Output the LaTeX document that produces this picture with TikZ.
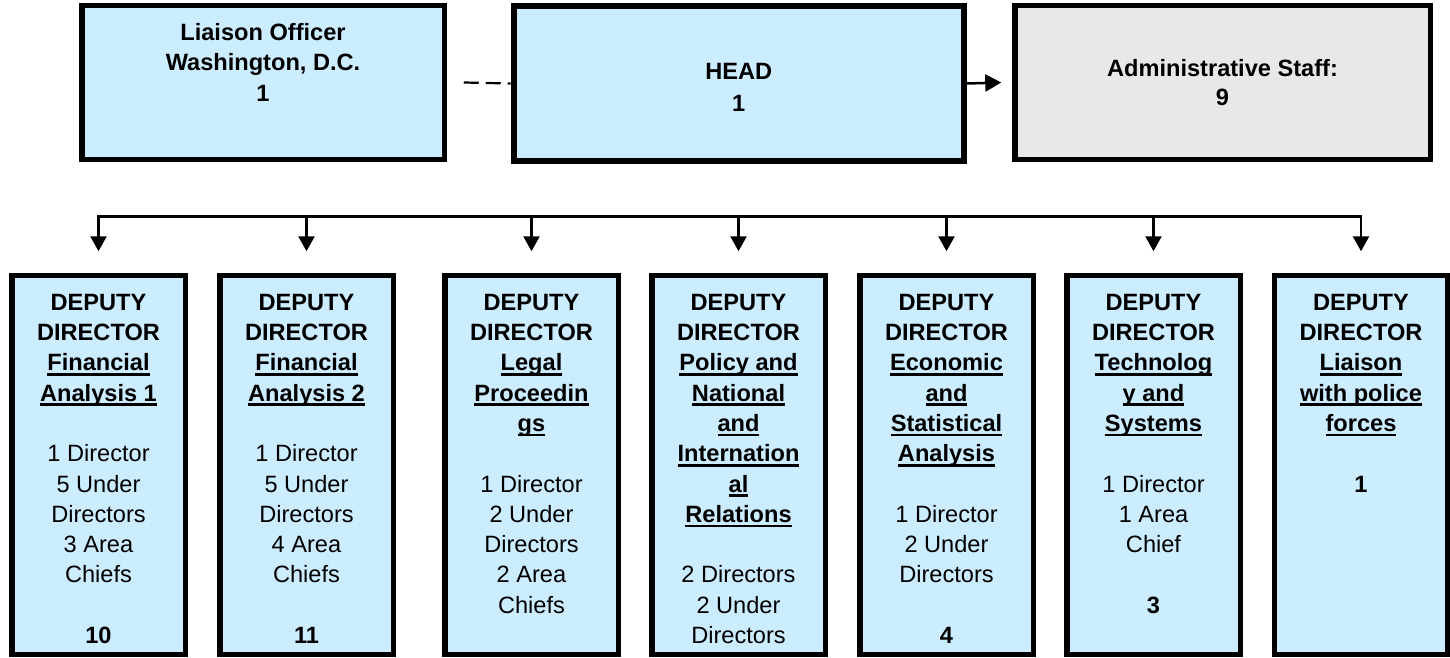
\documentclass[tikz,border=0pt]{standalone}
\usepackage{fontspec}
\setmainfont{Liberation Sans}
\usetikzlibrary{arrows.meta}
\definecolor{boxblue}{HTML}{CCECFF}
\definecolor{boxgray}{HTML}{E8E8E8}
\newcommand\ulx[1]{\setbox0\hbox{#1}\rlap{\rule[-4.8pt]{\wd0}{2.5pt}}\box0}
\newcommand\fst{\rule{0pt}{20pt}}
\begin{document}
\begin{tikzpicture}[x=1pt,y=-1pt,
  topbox/.style={draw=black,line width=5.5pt,inner sep=0pt},
  depbox/.style={draw=black,line width=5.5pt,fill=boxblue,inner sep=0pt,minimum width=173.5pt,minimum height=379pt},
  txt/.style={anchor=north,inner sep=0pt,align=center,font=\fontsize{23.6}{30.3}\selectfont},
  conn/.style={line width=2.5pt},
  tipd/.style={-{Triangle[length=15pt,width=16pt]}}
]
\useasboundingbox (0,0) rectangle (1450,658);

% top boxes
\node[topbox,fill=boxblue,minimum width=362.5pt,minimum height=153.5pt] (lia) at (263,82.5) {};
\node[topbox,fill=boxblue,line width=6pt,minimum width=450pt,minimum height=155pt] (head) at (738.7,83.5) {};
\node[topbox,fill=boxgray,minimum width=415.5pt,minimum height=153.5pt] (adm) at (1222.5,82.5) {};

\node[txt,font=\fontsize{23.6}{30.5}\selectfont] (liaT) at (263,20) {\fst\textbf{Liaison Officer}\\\textbf{Washington, D.C.}\\\textbf{1}};
\node[txt,font=\fontsize{23.6}{32.3}\selectfont] (headT) at (738.7,59.3) {\fst\textbf{HEAD}\\\textbf{1}};
\node[txt,font=\fontsize{23.6}{28.3}\selectfont] (admT) at (1222.5,56.7) {\fst\textbf{Administrative Staff:}\\\textbf{9}};

% top connectors
\draw[line width=2.2pt,dash pattern=on 15pt off 7pt] ([xshift=16.75pt]lia.east) -- (head.west);
\draw[conn,-{Triangle[length=16pt,width=17pt]}] (head.east) -- ([xshift=-10.75pt]adm.west);

% deputy boxes
\node[depbox] (b1) at (98.5,465) {};
\node[depbox] (b2) at (306.5,465) {};
\node[depbox] (b3) at (531.5,465) {};
\node[depbox] (b4) at (738.5,465) {};
\node[depbox] (b5) at (946.5,465) {};
\node[depbox] (b6) at (1153.5,465) {};
\node[depbox] (b7) at (1361,465) {};

\node[txt] (t1) at (98.5,290) {\fst\textbf{DEPUTY}\\\textbf{DIRECTOR}\\\ulx{\textbf{Financial}}\\\ulx{\textbf{Analysis 1}}\\[30.3pt]1 Director\\5 Under\\Directors\\3 Area\\Chiefs\\[30.3pt]\textbf{10}};
\node[txt] (t2) at (306.5,290) {\fst\textbf{DEPUTY}\\\textbf{DIRECTOR}\\\ulx{\textbf{Financial}}\\\ulx{\textbf{Analysis 2}}\\[30.3pt]1 Director\\5 Under\\Directors\\4 Area\\Chiefs\\[30.3pt]\textbf{11}};
\node[txt] (t3) at (531.5,290) {\fst\textbf{DEPUTY}\\\textbf{DIRECTOR}\\\ulx{\textbf{Legal}}\\\ulx{\textbf{Proceedin}}\\\ulx{\textbf{gs}}\\[30.3pt]1 Director\\2 Under\\Directors\\2 Area\\Chiefs};
\node[txt] (t4) at (738.5,290) {\fst\textbf{DEPUTY}\\\textbf{DIRECTOR}\\\ulx{\textbf{Policy and}}\\\ulx{\textbf{National}}\\\ulx{\textbf{and}}\\\ulx{\textbf{Internation}}\\\ulx{\textbf{al}}\\\ulx{\textbf{Relations}}\\[30.3pt]2 Directors\\2 Under\\Directors};
\node[txt] (t5) at (946.5,290) {\fst\textbf{DEPUTY}\\\textbf{DIRECTOR}\\\ulx{\textbf{Economic}}\\\ulx{\textbf{and}}\\\ulx{\textbf{Statistical}}\\\ulx{\textbf{Analysis}}\\[30.3pt]1 Director\\2 Under\\Directors\\[30.3pt]\textbf{4}};
\node[txt] (t6) at (1153.5,290) {\fst\textbf{DEPUTY}\\\textbf{DIRECTOR}\\\ulx{\textbf{Technolog}}\\\ulx{\textbf{y and}}\\\ulx{\textbf{Systems}}\\[30.3pt]1 Director\\1 Area\\Chief\\[30.3pt]\textbf{3}};
\node[txt] (t7) at (1361,290) {\fst\textbf{DEPUTY}\\\textbf{DIRECTOR}\\\ulx{\textbf{Liaison}}\\\ulx{\textbf{with police}}\\\ulx{\textbf{forces}}\\[30.3pt]\textbf{1}};

% bus
\coordinate (bus) at (0,216.7);
\draw[conn,line join=miter,{Triangle[length=15pt,width=16pt]}-{Triangle[length=15pt,width=16pt]}]
  ([yshift=21.5pt]b1.north) -- (b1.north |- bus) -- (b7.north |- bus) -- ([yshift=21.5pt]b7.north);
\foreach \b in {b2,b3,b4,b5,b6}
  \draw[conn,tipd] (\b.north |- bus) -- ([yshift=21.5pt]\b.north);
\end{tikzpicture}
\end{document}
